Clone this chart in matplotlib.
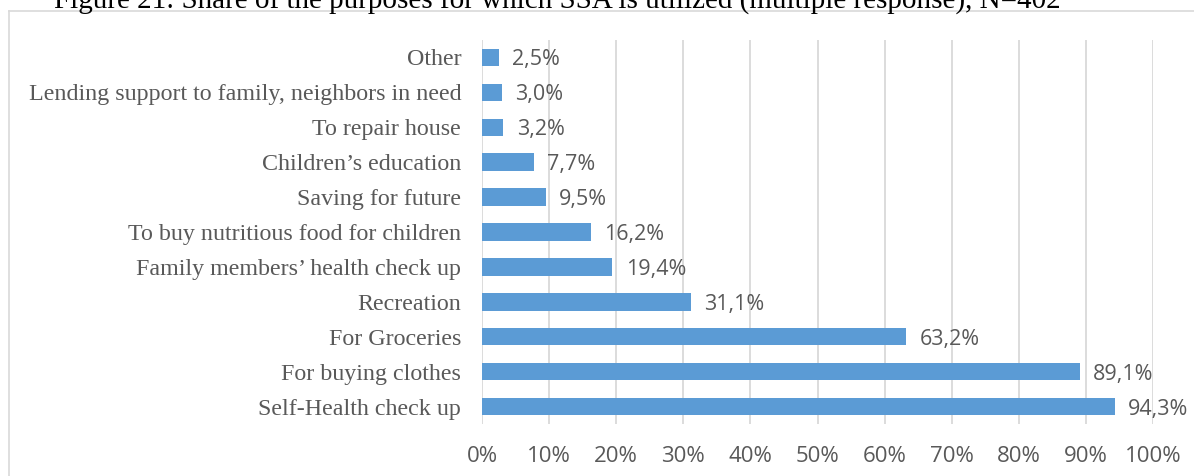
import matplotlib
matplotlib.use("Agg")
import matplotlib.pyplot as plt
import matplotlib.ticker as mticker
from matplotlib.lines import Line2D

# ── data ───────────────────────────────────────────────────────────────────────
purposes = [
    "Self-Health check up",
    "For buying clothes",
    "For Groceries",
    "Recreation",
    "Family members\u2019 health check up",
    "To buy nutritious food for children",
    "Saving for future",
    "Children\u2019s education",
    "To repair house",
    "Lending support to family, neighbors in need",
    "Other",
]
shares = [94.3, 89.1, 63.2, 31.1, 19.4, 16.2, 9.5, 7.7, 3.2, 3.0, 2.5]
x_ticks = [0, 10, 20, 30, 40, 50, 60, 70, 80, 90, 100]

TITLE = "Figure 21: Share of the purposes for which SSA is utilized (multiple response), N=402"

BAR = "#5B9BD5"
TXT = "#595959"
GRID = "#D9D9D9"
SANS = ["Open Sans", "DejaVu Sans"]
SERIF = ["Liberation Serif", "DejaVu Serif"]

W, H = 1194, 476
fig = plt.figure(figsize=(W / 100, H / 100), dpi=100)

# plot area in pixel coords -> figure fractions
left, right = 482, 1153
top, bottom = 40, 424
ax = fig.add_axes([left / W, 1 - bottom / H, (right - left) / W, (bottom - top) / H])

y = range(len(purposes))
bars = ax.barh(y, shares, height=0.5, color=BAR, edgecolor="none", zorder=3)

# value labels to the right of each bar, decimal comma
for b, v in zip(bars, shares):
    ax.text(b.get_width() + 2.0, b.get_y() + b.get_height() / 2,
            f"{v:.1f}%".replace(".", ","), va="center_baseline", ha="left",
            fontsize=15.5, color=TXT, family=SANS)

ax.set_xlim(0, 100)
ax.set_ylim(-0.5, len(purposes) - 0.5)
ax.set_xticks(x_ticks)
ax.xaxis.set_major_formatter(mticker.FuncFormatter(lambda v, _: f"{v:.0f}%"))
ax.set_yticks(list(y))
ax.set_yticklabels(purposes, family=SERIF, fontsize=17.3, color=TXT)
for lab in ax.get_xticklabels():
    lab.set_family(SANS)
    lab.set_fontsize(16)
    lab.set_color(TXT)
ax.tick_params(axis="both", length=0)
ax.tick_params(axis="y", pad=15)
ax.tick_params(axis="x", pad=16)
ax.grid(axis="x", color=GRID, linewidth=1.3, zorder=0)
for s in ax.spines.values():
    s.set_visible(False)

# chart frame (top and left edges visible)
fig.add_artist(Line2D([9 / W, 1], [1 - 11 / H, 1 - 11 / H], color=GRID, lw=1.2,
                      transform=fig.transFigure))
fig.add_artist(Line2D([9 / W, 9 / W], [0, 1 - 11 / H], color=GRID, lw=1.2,
                      transform=fig.transFigure))

fig.text(557 / W, 1 - 9 / H, TITLE, ha="center", va="baseline",
         fontsize=21, color="black", family=SERIF)

fig.savefig("out.png", dpi=100)
